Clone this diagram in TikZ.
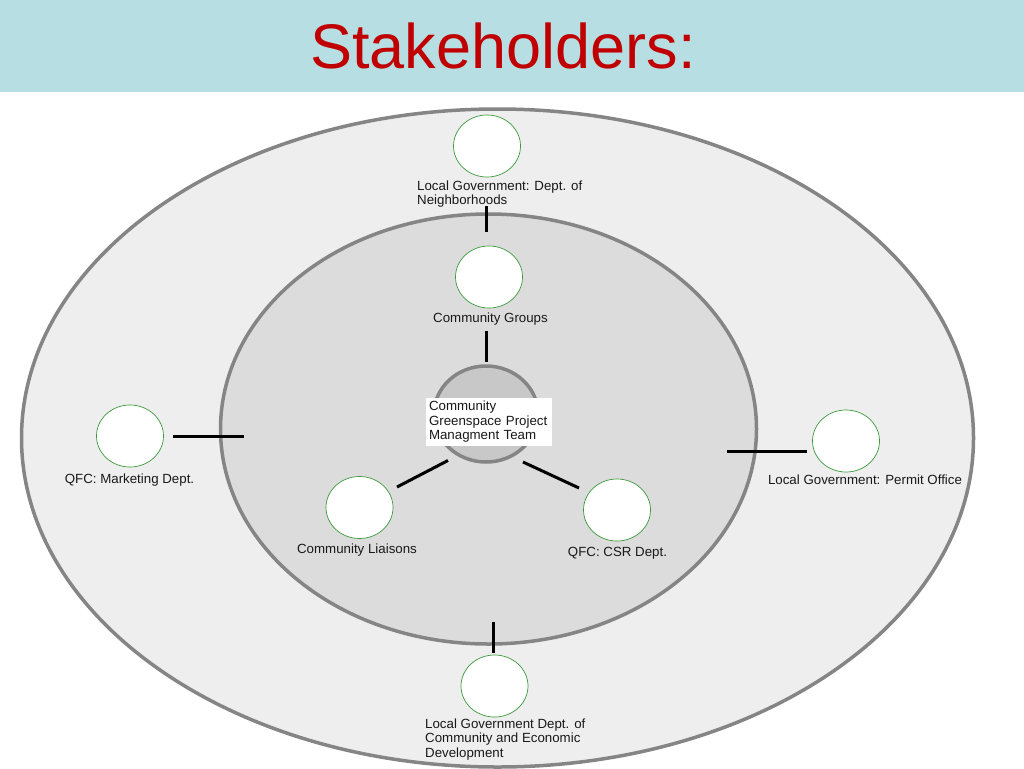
\documentclass[tikz,border=0pt]{standalone}
\usepackage{fontspec}
\setmainfont{Liberation Sans}
\usetikzlibrary{shapes.geometric,positioning}
\definecolor{barblue}{HTML}{B7DEE2}
\definecolor{titlered}{HTML}{C00000}
\definecolor{outerfill}{HTML}{EEEEEE}
\definecolor{innerfill}{HTML}{DCDCDC}
\definecolor{corefill}{HTML}{C8C8C8}
\definecolor{ringgray}{HTML}{858585}
\definecolor{ringgreen}{HTML}{3C9A3C}

\begin{document}
\begin{tikzpicture}[x=1pt,y=-1pt]
      %styles for the stakeholder map
      \tikzset{
      member/.style={ellipse, draw=ringgreen, line width=0.7pt, fill=white,
        minimum width=67pt, minimum height=62pt, inner sep=0pt},
      tag/.style={font=\fontsize{13.3}{14.5}\selectfont, align=left,
        inner sep=0pt, text=black!90},
      tie/.style={line width=3pt, black},
      ring/.style={draw=ringgray, line width=3.5pt},
      }
      \useasboundingbox (0,0) rectangle (1024,768);
      \clip (0,0) rectangle (1024,768);

      %title bar
      \fill[barblue] (0,0) rectangle (1024,92);
      \node[text=titlered, font=\fontsize{63}{70}\selectfont] (title) at (503,46) {Stakeholders:};

      %rings
      \draw[ring, fill=outerfill] (497.5,438) ellipse [x radius=476, y radius=329];
      \draw[ring, fill=innerfill] (488.5,429) ellipse [x radius=268, y radius=215];
      \node[ellipse, ring, fill=corefill, minimum width=104pt, minimum height=96pt] (core) at (486,414) {};
      \node[tag, fill=white, inner xsep=3pt, text width=120pt, minimum height=48pt] (team) at (489,422)
        {Community\\Greenspace Project\\Managment Team};

      %outer ring
      \node[member] (neigh) at (487,146) {};
      \node[tag, anchor=north west] (neigh tag) at (417,180.5) {Local Government: Dept. of\\Neighborhoods};
      \node[member] (mkt) at (130,436) {};
      \node[tag, anchor=base] (mkt tag) at (129.5,483) {QFC: Marketing Dept.};
      \node[member] (permit) at (846,441) {};
      \node[tag, anchor=base] (permit tag) at (865,484) {Local Government: Permit Office};
      \node[member] (econ) at (494.5,686) {};
      \node[tag, anchor=north west] (econ tag) at (425,718.5) {Local Government Dept. of\\Community and Economic\\Development};

      %inner ring
      \node[member] (groups) at (489,277) {};
      \node[tag, anchor=base] (groups tag) at (490.5,322.5) {Community Groups};
      \node[member] (liaison) at (359.5,507.5) {};
      \node[tag, anchor=base] (liaison tag) at (357,553) {Community Liaisons};
      \node[member] (csr) at (617,510) {};
      \node[tag, anchor=base] (csr tag) at (617.5,556) {QFC: CSR Dept.};

      %ties
      \coordinate (t1) at (486,206); \coordinate (t2) at (486,232);
      \coordinate (l1) at (173,436.5); \coordinate (l2) at (244,436.5);
      \coordinate (r1) at (727,451); \coordinate (r2) at (807,451);
      \coordinate (b1) at (493,622); \coordinate (b2) at (493,653);
      \coordinate (c1) at (448,460.5); \coordinate (c2) at (397,487);
      \coordinate (s1) at (523,462); \coordinate (s2) at (579,488);
      \draw[tie] (t1) -- (t2);
      \draw[tie] (l1) -- (l2);
      \draw[tie] (r1) -- (r2);
      \draw[tie] (b1) -- (b2);
      \draw[tie, shorten <=6pt, shorten >=2pt] (core.north |- groups tag.south) -- (core.north);
      \draw[tie] (c1) -- (c2);
      \draw[tie] (s1) -- (s2);
\end{tikzpicture}
\end{document}
